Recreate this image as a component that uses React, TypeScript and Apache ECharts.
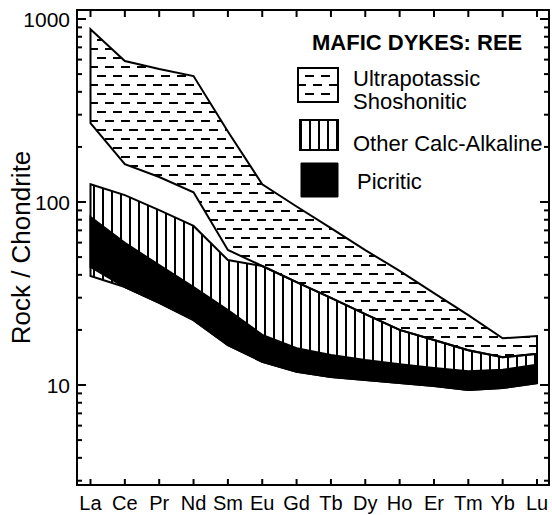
import React, { useEffect, useRef } from 'react';
import * as echarts from 'echarts';

// ---- data ----
const elements = ['La', 'Ce', 'Pr', 'Nd', 'Sm', 'Eu', 'Gd', 'Tb', 'Dy', 'Ho', 'Er', 'Tm', 'Yb', 'Lu'];

// Ultrapotassic / Shoshonitic field (dashed)
const ultraUpper = [880, 589, 533, 488, 243, 125, 94.5, 72, 54.6, 42, 31.8, 24.1, 18, 18.5];
const ultraLower = [270, 161, 137, 113, 54.7, 44.7, 36.5, 29.9, 24.4, 20.0, 17.6, 15.5, 14.2, 14.8];

// Other Calc-Alkaline field (vertical lines)
const calcUpper = [125, 109, 90.3, 74, 48.2, 44.7, 36.5, 29.9, 24.4, 20.0, 17.6, 15.5, 14.2, 14.8];
const calcLower = [39.4, 34.3, 28.1, 22.6, 16.5, 13.4, 11.8, 11.06, 10.65, 10.25, 9.87, 9.39, 9.63, 10.25];

// Picritic field (solid black)
const picUpper = [82.8, 59.8, 45.2, 34.3, 25.7, 18.8, 15.9, 14.6, 13.7, 13.0, 12.4, 11.9, 12.1, 12.9];
const picLower = [44.2, 34.3, 28.1, 22.6, 16.5, 13.4, 11.8, 11.06, 10.65, 10.25, 9.87, 9.39, 9.63, 10.25];

const yMin = 2.842;
const yMax = 1120;
const yMajorTicks = [10, 100, 1000];
const yMinorTicks = [3, 4, 5, 6, 7, 8, 9, 20, 30, 40, 50, 60, 70, 80, 90, 200, 300, 400, 500, 600, 700, 800, 900];

const legendTitle = 'MAFIC DYKES: REE';
const legendNames = ['Ultrapotassic\nShoshonitic', 'Other Calc-Alkaline', 'Picritic'];
const yAxisName = 'Rock / Chondrite';

const FONT = '"Liberation Sans", Arial, Helvetica, sans-serif';

function makeDashPattern(): any {
  const c = document.createElement('canvas');
  c.width = 16;
  c.height = 18;
  const ctx = c.getContext('2d')!;
  ctx.fillStyle = '#000';
  ctx.fillRect(1, 3, 9, 2);
  ctx.fillRect(9, 12, 9, 2);
  ctx.fillRect(-7, 12, 9, 2);
  return { image: c.toDataURL(), repeat: 'repeat', imageWidth: 16, imageHeight: 18 };
}

function makeVLinePattern(): any {
  const c = document.createElement('canvas');
  c.width = 9;
  c.height = 4;
  const ctx = c.getContext('2d')!;
  ctx.fillStyle = '#000';
  ctx.fillRect(3, 0, 2, 4);
  return { image: c.toDataURL(), repeat: 'repeat', imageWidth: 9, imageHeight: 4 };
}

export default function App() {
  const ref = useRef<HTMLDivElement>(null);

  useEffect(() => {
    const chart = echarts.init(ref.current!, null, { renderer: 'svg' });
    const dash = makeDashPattern();
    const vline = makeVLinePattern();

    const band = (name: string, upper: number[], lower: number[], fill: any) => ({
      type: 'custom',
      name,
      xAxisIndex: 0,
      yAxisIndex: 0,
      clip: true,
      silent: true,
      z: 2,
      data: upper.map((u, i) => [i, u, lower[i]]),
      encode: { x: 0, y: [1, 2] },
      renderItem: (params: any, api: any) => {
        if (params.dataIndex !== 0) return null;
        const pts: number[][] = [];
        for (let i = 0; i < upper.length; i++) pts.push(api.coord([i, upper[i]]));
        for (let i = lower.length - 1; i >= 0; i--) pts.push(api.coord([i, lower[i]]));
        return {
          type: 'polygon',
          shape: { points: pts },
          style: { fill, stroke: '#000', lineWidth: 2, lineJoin: 'miter' },
        };
      },
    });

    // tick marks (inside, on all four sides) placed through the axes' scales
    const yTickSeries = (values: number[], len: number) => ({
      type: 'custom',
      xAxisIndex: 0,
      yAxisIndex: 0,
      clip: false,
      silent: true,
      z: 10,
      data: values.map((v) => [0, v]),
      encode: { x: 0, y: 1 },
      renderItem: (params: any, api: any) => {
        const cs = params.coordSys;
        const y = api.coord([0, api.value(1)])[1];
        return {
          type: 'group',
          children: [
            { type: 'rect', shape: { x: cs.x, y: y - 1, width: len, height: 2 }, style: { fill: '#000' } },
            { type: 'rect', shape: { x: cs.x + cs.width - len, y: y - 1, width: len, height: 2 }, style: { fill: '#000' } },
          ],
        };
      },
    });

    const xTickSeries = {
      type: 'custom',
      xAxisIndex: 0,
      yAxisIndex: 0,
      clip: false,
      silent: true,
      z: 10,
      data: elements.map((_, i) => [i, 10]),
      encode: { x: 0, y: 1 },
      renderItem: (params: any, api: any) => {
        const cs = params.coordSys;
        const x = api.coord([api.value(0), 10])[0];
        return {
          type: 'group',
          children: [
            { type: 'rect', shape: { x: x - 1, y: cs.y, width: 2, height: 7 }, style: { fill: '#000' } },
            { type: 'rect', shape: { x: x - 1, y: cs.y + cs.height - 6, width: 2, height: 6 }, style: { fill: '#000' } },
          ],
        };
      },
    };

    const axisLine = { show: true, onZero: false, lineStyle: { color: '#000', width: 2 } };
    const xTickVals = elements.map((_, i) => i);

    const option: any = {
      animation: false,
      backgroundColor: '#fff',
      textStyle: { fontFamily: FONT, color: '#000' },
      grid: { left: 77, right: 3, top: 10, bottom: 30, containLabel: false, outerBoundsMode: 'none' },
      xAxis: [
        {
          type: 'value',
          min: -0.393,
          max: 13.349,
          position: 'bottom',
          axisLine,
          axisTick: { show: false },
          axisLabel: {
            customValues: xTickVals,
            formatter: (v: number) => elements[Math.round(v)] ?? '',
            fontSize: 20,
            color: '#000',
            fontFamily: FONT,
            margin: 8,
            hideOverlap: false,
          },
          splitLine: { show: false },
        },
        {
          type: 'value',
          min: -0.393,
          max: 13.349,
          position: 'top',
          axisLine,
          axisTick: { show: false },
          axisLabel: { show: false },
          splitLine: { show: false },
        },
      ],
      yAxis: [
        {
          type: 'log',
          logBase: 10,
          min: yMin,
          max: yMax,
          position: 'left',
          name: yAxisName,
          nameLocation: 'middle',
          nameGap: 43,
          nameMoveOverlap: false,
          nameTextStyle: { fontSize: 26, color: '#000', fontFamily: FONT },
          axisLine,
          axisTick: { show: false },
          axisLabel: {
            fontSize: 21,
            color: '#000',
            fontFamily: FONT,
            margin: 7,
            showMinLabel: false,
            showMaxLabel: false,
            formatter: (v: number) => String(Math.round(v)),
          },
          splitLine: { show: false },
        },
        {
          type: 'log',
          logBase: 10,
          min: yMin,
          max: yMax,
          position: 'right',
          axisLine,
          axisTick: { show: false },
          axisLabel: { show: false },
          splitLine: { show: false },
        },
      ],
      graphic: [
        {
          type: 'text',
          x: 312,
          y: 42,
          style: { text: legendTitle, fontSize: 22, fontWeight: 'bold', fontFamily: FONT, fill: '#000', verticalAlign: 'middle' },
        },
        { type: 'rect', shape: { x: 298, y: 68, width: 40, height: 34 }, style: { fill: dash, stroke: '#000', lineWidth: 2 } },
        {
          type: 'text',
          x: 353,
          y: 90,
          style: { text: legendNames[0], fontSize: 22, lineHeight: 23, fontFamily: FONT, fill: '#000', verticalAlign: 'middle' },
        },
        { type: 'rect', shape: { x: 300, y: 120, width: 38, height: 30 }, style: { fill: vline, stroke: '#000', lineWidth: 2 } },
        {
          type: 'text',
          x: 353,
          y: 143,
          style: { text: legendNames[1], fontSize: 22, fontFamily: FONT, fill: '#000', verticalAlign: 'middle' },
        },
        { type: 'rect', shape: { x: 301, y: 163, width: 37, height: 34 }, style: { fill: '#000', stroke: '#000', lineWidth: 1 } },
        {
          type: 'text',
          x: 357,
          y: 181,
          style: { text: legendNames[2], fontSize: 22, fontFamily: FONT, fill: '#000', verticalAlign: 'middle' },
        },
      ],
      series: [
        band(legendNames[0], ultraUpper, ultraLower, dash),
        band(legendNames[1], calcUpper, calcLower, vline),
        band(legendNames[2], picUpper, picLower, '#000'),
        yTickSeries(yMajorTicks, 9),
        yTickSeries(yMinorTicks, 5),
        xTickSeries,
      ],
    };

    chart.setOption(option);
    return () => chart.dispose();
  }, []);

  return <div ref={ref} style={{ position: 'absolute', left: 0, top: 0, width: 552, height: 515 }} />;
}
